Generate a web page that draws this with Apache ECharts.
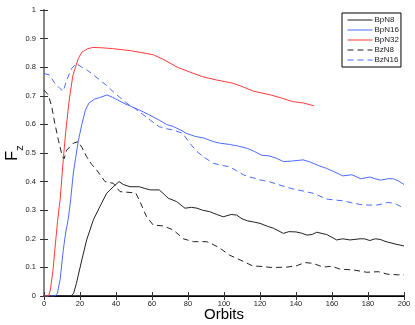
<!DOCTYPE html>
<html>
<head>
<meta charset="utf-8">
<script src="https://cdn.jsdelivr.net/npm/echarts@6/dist/echarts.min.js"></script>
<style>
  html, body { margin: 0; padding: 0; background: #fff; }
  #chart { width: 415px; height: 325px; }
</style>
</head>
<body>
<div id="chart"></div>
<script>
// series names
var names = ['BpN8', 'BpN16', 'BpN32', 'BzN8', 'BzN16'];

// BpN8 (black solid)
var bpN8X = [0, 15, 16.5, 18, 21, 23.7, 27.4, 31, 34.8, 38.5, 41.7, 44, 47.8, 53, 56, 59, 64, 66, 69, 73.7, 78.3, 82, 85, 88, 92, 96, 99.6, 104, 107, 110, 113, 117, 120, 124, 127.4, 133, 136, 140, 143, 146, 149, 151.5, 157, 160, 162.6, 166, 170, 175.6, 178, 181, 184, 186.7, 190, 195, 200];
var bpN8Y = [0, 0, 0.01, 0.044, 0.126, 0.196, 0.266, 0.312, 0.359, 0.382, 0.40, 0.39, 0.382, 0.382, 0.376, 0.371, 0.371, 0.36, 0.342, 0.33, 0.307, 0.31, 0.307, 0.3, 0.295, 0.285, 0.277, 0.285, 0.283, 0.27, 0.263, 0.258, 0.254, 0.244, 0.237, 0.219, 0.225, 0.224, 0.22, 0.213, 0.215, 0.223, 0.215, 0.205, 0.196, 0.2, 0.196, 0.2, 0.2, 0.194, 0.2, 0.198, 0.19, 0.182, 0.175];

// BpN16 (blue solid)
var bpN16X = [0, 6, 7.5, 9, 10.7, 12, 13.5, 14.8, 16.3, 17.5, 19, 21, 23, 25, 28, 31, 35, 38, 41, 45, 48, 53, 58, 61, 64, 68, 72, 76, 79, 84, 89, 94, 98, 103, 108, 113, 117, 121, 125, 129, 133, 138, 144, 148, 153, 157, 161, 166, 171, 176, 181, 184, 187, 191, 194, 197, 200];
var bpN16Y = [0, 0, 0.01, 0.06, 0.16, 0.22, 0.27, 0.336, 0.43, 0.48, 0.54, 0.6, 0.65, 0.675, 0.688, 0.694, 0.703, 0.695, 0.685, 0.672, 0.664, 0.65, 0.635, 0.625, 0.615, 0.6, 0.592, 0.58, 0.569, 0.558, 0.552, 0.54, 0.534, 0.53, 0.524, 0.516, 0.505, 0.492, 0.49, 0.482, 0.47, 0.472, 0.476, 0.468, 0.455, 0.446, 0.435, 0.42, 0.424, 0.41, 0.416, 0.41, 0.405, 0.41, 0.41, 0.402, 0.39];

// BpN32 (red solid)
var bpN32X = [0, 2.5, 3.5, 5, 6, 7.5, 9, 10.7, 12, 14, 16, 17.5, 19, 21, 24, 27, 32, 38, 48, 55, 61, 67, 74, 81, 88, 96, 105, 111, 116, 120, 126, 132, 138, 144, 150];
var bpN32Y = [0, 0, 0.02, 0.09, 0.16, 0.26, 0.34, 0.476, 0.57, 0.685, 0.77, 0.80, 0.83, 0.852, 0.864, 0.869, 0.868, 0.865, 0.858, 0.85, 0.843, 0.825, 0.80, 0.783, 0.767, 0.755, 0.744, 0.73, 0.717, 0.711, 0.703, 0.692, 0.68, 0.675, 0.665];

// BzN8 (black dashed)
var bzN8X = [0, 2.4, 4.3, 6, 8, 10.2, 11.2, 12.6, 16.3, 19, 21, 23.7, 26.5, 29.3, 33.9, 38.5, 42.2, 47.8, 51, 53.3, 57, 60.7, 66.3, 71.8, 77.4, 83, 90.4, 94, 97.8, 103, 109, 116, 122, 125.6, 130, 134.8, 140.4, 145, 149.6, 155, 160, 164.4, 172, 179.3, 185.7, 191, 196.9, 200];
var bzN8Y = [0.72, 0.703, 0.662, 0.604, 0.545, 0.487, 0.48, 0.51, 0.534, 0.54, 0.52, 0.487, 0.46, 0.44, 0.40, 0.394, 0.365, 0.362, 0.36, 0.33, 0.277, 0.248, 0.245, 0.231, 0.2, 0.19, 0.19, 0.18, 0.167, 0.143, 0.126, 0.105, 0.103, 0.1, 0.1, 0.101, 0.106, 0.117, 0.114, 0.101, 0.104, 0.094, 0.091, 0.083, 0.085, 0.076, 0.074, 0.074];

// BzN16 (blue dashed)
var bzN16X = [0, 3, 6, 9, 10.7, 12.6, 15.4, 18, 21, 24, 27, 31, 35, 38.5, 42, 46, 50, 53, 59, 64, 68, 72, 77, 81, 85, 88.5, 94, 98, 103, 107, 111, 115, 120, 125, 129, 134, 138.5, 144, 149.6, 153, 157, 161, 166, 171, 175.6, 180, 185, 188, 191, 194, 196, 200];
var bzN16Y = [0.778, 0.773, 0.744, 0.725, 0.716, 0.755, 0.796, 0.813, 0.80, 0.79, 0.775, 0.755, 0.735, 0.714, 0.695, 0.674, 0.658, 0.644, 0.615, 0.592, 0.585, 0.58, 0.569, 0.534, 0.505, 0.487, 0.464, 0.458, 0.452, 0.438, 0.423, 0.415, 0.406, 0.4, 0.392, 0.382, 0.374, 0.367, 0.359, 0.35, 0.339, 0.336, 0.333, 0.326, 0.32, 0.318, 0.318, 0.322, 0.327, 0.325, 0.32, 0.307];

// axis ticks
var xTicks = { min: 0, max: 200, step: 20 };
var yTicks = { min: 0, max: 1, step: 0.1 };

function pairs(xs, ys) {
    var out = [];
    for (var i = 0; i < xs.length; i++) {
        out.push([xs[i], ys[i]]);
    }
    return out;
}

var font = 'Liberation Sans, Arial, sans-serif';
var myChart = echarts.init(document.getElementById('chart'));

function lineSeries(name, xs, ys, color, dashed) {
    return {
        name: name,
        type: 'line',
        data: pairs(xs, ys),
        symbol: 'none',
        animation: false,
        lineStyle: { color: color, width: 1, type: dashed ? [6, 4] : 'solid' },
        itemStyle: { color: color }
    };
}

var options = {
    backgroundColor: '#fff',
    textStyle: { fontFamily: font },
    grid: { left: 44, right: 11, top: 10, bottom: 29, containLabel: false, outerBoundsMode: 'none' },
    legend: {
        data: names,
        orient: 'vertical',
        left: 342,
        top: 13,
        backgroundColor: '#fff',
        borderColor: '#000',
        borderWidth: 1,
        borderRadius: 0,
        padding: [3, 2, 3, 5],
        itemWidth: 25,
        itemHeight: 8,
        itemGap: 2,
        itemStyle: { color: 'transparent', borderWidth: 0 },
        lineStyle: { width: 1 },
        textStyle: { fontSize: 8, color: '#222', fontFamily: font, padding: [0, 0, 0, -3] }
    },
    xAxis: [{
        type: 'value',
        min: xTicks.min, max: xTicks.max, interval: xTicks.step,
        name: 'Orbits',
        nameLocation: 'middle',
        nameGap: 11,
        nameMoveOverlap: false,
        nameTextStyle: { fontSize: 15, color: '#000', fontFamily: font },
        axisLine: { lineStyle: { color: '#000', width: 1.5 } },
        axisTick: { inside: true, length: 4, lineStyle: { color: '#333' } },
        axisLabel: { fontSize: 7.5, color: '#222', margin: 4 },
        splitLine: { show: false }
    }, {
        type: 'value',
        position: 'top',
        min: xTicks.min, max: xTicks.max, interval: xTicks.step,
        axisLine: { show: true, lineStyle: { color: '#000', width: 1 } },
        axisTick: { inside: true, length: 4, lineStyle: { color: '#333' } },
        axisLabel: { show: false },
        splitLine: { show: false }
    }],
    yAxis: [{
        type: 'value',
        min: yTicks.min, max: yTicks.max, interval: yTicks.step,
        name: '{f|F}{s|z}',
        nameLocation: 'middle',
        nameGap: 22,
        nameMoveOverlap: false,
        nameRotate: 90,
        nameTextStyle: {
            rich: {
                f: { fontSize: 16, color: '#000', fontFamily: font, lineHeight: 18, verticalAlign: 'middle' },
                s: { fontSize: 11, color: '#000', fontFamily: font, lineHeight: 18, verticalAlign: 'bottom', padding: [0, 0, -3, 0] }
            }
        },
        axisLine: { show: true, lineStyle: { color: '#888', width: 2 } },
        axisTick: { inside: true, length: 4, lineStyle: { color: '#333' } },
        axisLabel: { fontSize: 7.5, color: '#222', margin: 8 },
        splitLine: { show: false }
    }, {
        type: 'value',
        position: 'right',
        min: yTicks.min, max: yTicks.max, interval: yTicks.step,
        axisLine: { show: true, lineStyle: { color: '#888', width: 2 } },
        axisTick: { inside: true, length: 4, lineStyle: { color: '#333' } },
        axisLabel: { show: false },
        splitLine: { show: false }
    }],
    series: [
        lineSeries('BpN8', bpN8X, bpN8Y, '#222', false),
        lineSeries('BpN16', bpN16X, bpN16Y, '#4d6bff', false),
        lineSeries('BpN32', bpN32X, bpN32Y, '#ff3a3a', false),
        lineSeries('BzN8', bzN8X, bzN8Y, '#222', true),
        lineSeries('BzN16', bzN16X, bzN16Y, '#4d6bff', true)
    ]
};
myChart.setOption(options, true);
</script>
</body>
</html>
